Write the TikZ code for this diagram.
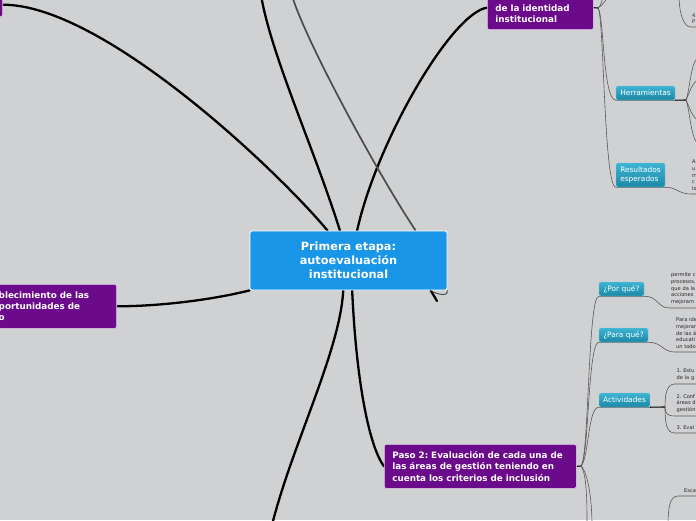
\documentclass[tikz,border=0pt]{standalone}
\usepackage{fontspec}
\setmainfont{DejaVu Sans}
\usepackage{tikz}
\usetikzlibrary{backgrounds}
\frenchspacing
\definecolor{fondo}{HTML}{D0D1D3}
\definecolor{azulraiz}{HTML}{1A96E8}
\definecolor{morado}{HTML}{6B0A8A}
\definecolor{celesteA}{HTML}{3DB4D3}
\definecolor{celesteB}{HTML}{1C87A5}
\definecolor{gristexto}{HTML}{262626}
\tikzstyle{raiz}=[draw=white,fill=azulraiz,text=white,rounded corners=2pt,line width=0.8pt,minimum width=197pt,minimum height=59pt,align=center,font=\bfseries\fontsize{11.3}{14}\selectfont]
\tikzstyle{paso}=[draw=white!80!morado,fill=morado,text=white,rounded corners=1.5pt,line width=0.6pt,inner xsep=8pt,align=left,font=\bfseries\fontsize{8.8}{11.3}\selectfont]
\tikzstyle{etiqueta}=[draw=celesteA!70!white,top color=celesteA,bottom color=celesteB,text=white,rounded corners=1.5pt,line width=0.4pt,inner sep=1pt,minimum height=14pt,align=left,font=\fontsize{7.4}{8.8}\selectfont]
\tikzstyle{texto}=[text=gristexto,anchor=south west,inner xsep=1.5pt,inner ysep=3pt,text width=40pt,align=left,font=\fontsize{5.1}{6.8}\selectfont]
\tikzstyle{principal}=[line width=2.3pt,black,line cap=round]
\tikzstyle{relacion}=[line width=1.7pt,black!70]
\tikzstyle{rama}=[line width=0.6pt,black!65]
\tikzstyle{nudo}=[line width=1.1pt,black]

\begin{document}
\begin{tikzpicture}[x=1pt,y=-1pt]
\useasboundingbox (0,0) rectangle (696,520);
\begin{scope}[on background layer]
	\fill[fondo] (0,0) rectangle (696,520);
\end{scope}

%Nodo central
\node[raiz] (R) at (348.5,260.5) {Primera etapa:\\autoevaluación\\institucional};

%Pasos
\node[paso,anchor=south west,text width=90pt,minimum height=44pt] (P1) at (487,30) {\strut\\de la identidad\\institucional};
\node[paso,anchor=north west,text width=176pt,minimum height=44pt] (P2) at (384,444) {Paso 2: Evaluación de cada una de\\las áreas de gestión teniendo en\\cuenta los criterios de inclusión};
\node[paso,anchor=north east,text width=110pt,minimum height=44pt] (P3) at (117,284) {blecimiento de las\\portunidades de\\o};
\node[paso,anchor=south east,minimum width=40pt,minimum height=24pt] (P4) at (3,17) {};

%Etiquetas
\node[etiqueta,minimum width=59pt] (H) at (645.5,93) {Herramientas};
\node[etiqueta,minimum width=49pt,minimum height=24pt] (RE) at (640.5,175) {Resultados\\esperados};
\node[etiqueta,minimum width=45pt] (PQ) at (621.5,289) {¿Por qué?};
\node[etiqueta,minimum width=49pt] (PA) at (623.5,335) {¿Para qué?};
\node[etiqueta,minimum width=51pt] (AC) at (624.5,400) {Actividades};

%Textos
\node[texto] (T1) at (669.5,308) {permite c\\procesos,\\que da la\\acciones\\mejoram};
\node[texto] (T2) at (674.5,352) {Para ide\\mejorar\\de las á\\educati\\un todo};
\node[texto] (T3) at (675,384) {1. Estu\\de la g};
\node[texto] (T4) at (675,416) {2. Conf\\áreas d\\gestión};
\node[texto] (T5) at (675,433) {3. Eval};
\node[texto] (T6) at (690.5,194) {A\\u\\m\\c\\lo};
\node[texto] (T7) at (690.5,27) {4.\\P};
\node[texto,inner xsep=6pt] (T8) at (678,496) {Esca};

%Puntos libres
\coordinate (CB) at (261,-5);
\coordinate (CG) at (291,-8);
\coordinate (CI) at (272,525);
\coordinate (CF) at (437,301);
\coordinate (CL) at (433,292);
\coordinate (N1) at (598,8);
\coordinate (N2) at (581,466);
\coordinate (N3) at (686,100);
\coordinate (N4) at (665,407);
\coordinate (A1) at (603,-5);
\coordinate (A2) at (608,-5);
\coordinate (B1) at (587,525);
\coordinate (B2) at (592,525);
\coordinate (HA) at (699,58);
\coordinate (HB) at (699,80);
\coordinate (HC) at (699,120);
\coordinate (HD) at (699,143);
\coordinate (CE) at (668,525);
\coordinate (CC) at (679,-5);

\begin{scope}[on background layer]
	%ramas principales
	\draw[principal] (R.-83) .. controls +(4,90) and +(-15,-20) .. (P2.west);
	\draw[principal] (R.-100) .. controls +(-3,60) and +(20,-80) .. (CI);
	\draw[principal] (R.south west) .. controls +(-40,10) and +(40,0) .. (P3.east);
	\draw[principal] (R.125) .. controls +(-50,-60) and +(100,0) .. (P4.east);
	\draw[principal] (R.106) .. controls +(-25,-80) and +(10,60) .. (CB);
	\draw[principal] (R.74) .. controls +(20,-90) and +(-35,5) .. (P1.west);
	\draw[relacion] (CG) .. controls +(10,40) and +(-40,-60) .. (R.24);
	\draw[principal] (R.-20) -- (CF);
	\draw[relacion,line width=1pt] (R.south east) .. controls +(1,6) and +(8,3) .. (CL);

	%paso 1
	\draw[nudo] (P1.east) -- (N1);
	\draw[rama] (N1) .. controls +(6,7) and +(-13,0) .. (H.south west) -- (H.south east);
	\draw[rama] (N1) .. controls +(6,7) and +(-12,0) .. (RE.south west) -- (RE.south east);
	\draw[rama] (N1) .. controls +(4,-3) and +(-1,4) .. (A1);
	\draw[rama] (N1) .. controls +(5,-3) and +(-1,4) .. (A2);
	\draw[nudo] (H.south east) -- (N3);
	\draw[rama] (N3) .. controls +(4,-10) and +(-8,0) .. (HA);
	\draw[rama] (N3) .. controls +(3,-6) and +(-6,0) .. (HB);
	\draw[rama] (N3) .. controls +(3,6) and +(-6,0) .. (HC);
	\draw[rama] (N3) .. controls +(4,10) and +(-8,0) .. (HD);
	\draw[rama] (RE.south east) .. controls +(12,0) and +(-12,0) .. (T6.south west) -- (T6.south east);
	\draw[rama] (CC) .. controls +(0,20) and +(-6,0) .. (T7.south west) -- (T7.south east);

	%paso 2
	\draw[nudo] (P2.east) -- (N2);
	\draw[rama] (N2) .. controls +(8,-8) and +(-11,0) .. (PQ.south west) -- (PQ.south east) .. controls +(14,0) and +(-12,0) .. (T1.south west) -- (T1.south east);
	\draw[rama] (N2) .. controls +(8,-8) and +(-11,0) .. (PA.south west) -- (PA.south east) .. controls +(14,0) and +(-12,0) .. (T2.south west) -- (T2.south east);
	\draw[rama] (N2) .. controls +(8,-8) and +(-11,0) .. (AC.south west) -- (AC.south east);
	\draw[rama] (N2) .. controls +(6,8) and +(0,-20) .. (B1);
	\draw[rama] (N2) .. controls +(8,8) and +(0,-20) .. (B2);
	\draw[nudo] (AC.south east) -- (N4);
	\draw[rama] (N4) .. controls +(0,-14) and +(-8,0) .. (T3.south west) -- (T3.south east);
	\draw[rama] (N4) .. controls +(0,6) and +(-8,0) .. (T4.south west) -- (T4.south east);
	\draw[rama] (N4) .. controls +(0,18) and +(-8,0) .. (T5.south west) -- (T5.south east);
	\draw[rama] (CE) .. controls +(0,-18) and +(-8,0) .. (T8.south west) -- (T8.south east);
\end{scope}
\end{tikzpicture}
\end{document}
